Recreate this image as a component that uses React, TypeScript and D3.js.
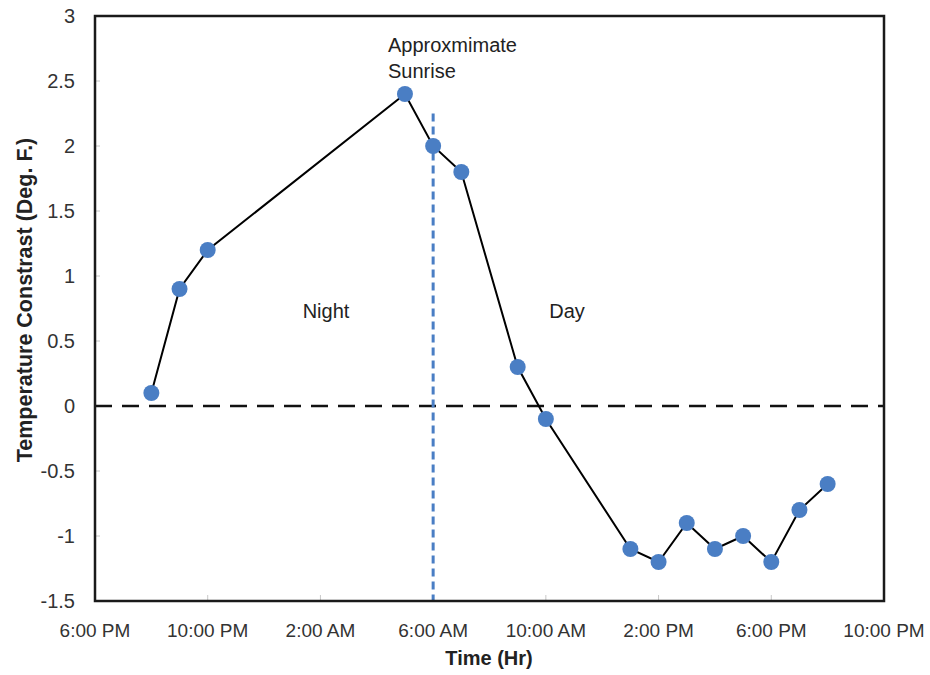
import React from "react";
import * as d3 from "d3";

const times: string[] = [
  "2020-01-01T20:00", "2020-01-01T21:00", "2020-01-01T22:00",
  "2020-01-02T05:00", "2020-01-02T06:00", "2020-01-02T07:00",
  "2020-01-02T09:00", "2020-01-02T10:00", "2020-01-02T13:00",
  "2020-01-02T14:00", "2020-01-02T15:00", "2020-01-02T16:00",
  "2020-01-02T17:00", "2020-01-02T18:00", "2020-01-02T19:00",
  "2020-01-02T20:00",
];
const contrast: number[] = [0.1, 0.9, 1.2, 2.4, 2.0, 1.8, 0.3, -0.1, -1.1, -1.2, -0.9, -1.1, -1.0, -1.2, -0.8, -0.6];
const yTicks: number[] = [-1.5, -1, -0.5, 0, 0.5, 1, 1.5, 2, 2.5, 3];
const xTickTimes: string[] = [
  "2020-01-01T18:00", "2020-01-01T22:00", "2020-01-02T02:00", "2020-01-02T06:00",
  "2020-01-02T10:00", "2020-01-02T14:00", "2020-01-02T18:00", "2020-01-02T22:00",
];
const xTickLabels: string[] = ["6:00 PM", "10:00 PM", "2:00 AM", "6:00 AM", "10:00 AM", "2:00 PM", "6:00 PM", "10:00 PM"];
const xDomain: string[] = ["2020-01-01T18:00", "2020-01-02T22:00"];
const sunriseTime = "2020-01-02T06:00";
const sunriseTop = 2.25;
const yDomain: number[] = [-1.5, 3];

const W = 930, H = 675;
const L = 95, R = 884, T = 16, B = 601;
const font = "'Liberation Sans', Arial, sans-serif";

export default function App() {
  const parse = (s: string) => new Date(s);
  const x = d3.scaleTime().domain(xDomain.map(parse)).range([L, R]);
  const y = d3.scaleLinear().domain(yDomain).range([B, T]);
  const data = times.map((t, i) => ({ t: parse(t), v: contrast[i] }));
  const line = d3.line<{ t: Date; v: number }>().x(d => x(d.t)).y(d => y(d.v));
  const sx = x(parse(sunriseTime));

  return (
    <svg width={W} height={H} style={{ position: "absolute", left: 0, top: 0, background: "#fff" }}>
      {yTicks.map(v => (
        <g key={"y" + v}>
          <line x1={L} x2={L + 5} y1={y(v)} y2={y(v)} stroke="#c8c8c8" strokeWidth={1} />
          <text x={75} y={y(v)} dy="0.36em" textAnchor="end" fontFamily={font} fontSize={20} fill="#333">{String(v)}</text>
        </g>
      ))}
      {xTickTimes.map((s, i) => {
        const d = parse(s);
        return (
          <g key={"x" + i}>
            <line x1={x(d)} x2={x(d)} y1={B} y2={B - 6} stroke="#c8c8c8" strokeWidth={1} />
            <text x={x(d)} y={637} textAnchor="middle" fontFamily={font} fontSize={19} fill="#333">{xTickLabels[i]}</text>
          </g>
        );
      })}
      <line x1={L} x2={R} y1={y(0)} y2={y(0)} stroke="#111" strokeWidth={2.5} strokeDasharray="17,10" />
      <line x1={sx} x2={sx} y1={y(sunriseTop)} y2={B} stroke="#4a7ec4" strokeWidth={3} strokeDasharray="8,5" />
      <rect x={L} y={T} width={R - L} height={B - T} fill="none" stroke="#1a1a1a" strokeWidth={2.5} />
      <path d={line(data) || ""} fill="none" stroke="#000" strokeWidth={2} />
      {data.map((d, i) => (
        <circle key={i} cx={x(d.t)} cy={y(d.v)} r={8} fill="#4a7ec4" />
      ))}
      <text x={388} y={52} fontFamily={font} fontSize={20} fill="#222">Approxmimate</text>
      <text x={388} y={78} fontFamily={font} fontSize={20} fill="#222">Sunrise</text>
      <text x={326} y={318} textAnchor="middle" fontFamily={font} fontSize={20} fill="#222">Night</text>
      <text x={567} y={318} textAnchor="middle" fontFamily={font} fontSize={20} fill="#222">Day</text>
      <text x={489} y={665} textAnchor="middle" fontFamily={font} fontSize={20} fontWeight="bold" fill="#222">Time (Hr)</text>
      <text transform={`translate(32,300) rotate(-90)`} textAnchor="middle" fontFamily={font} fontSize={21.5} fontWeight="bold" fill="#222">Temperature Constrast (Deg. F.)</text>
    </svg>
  );
}
